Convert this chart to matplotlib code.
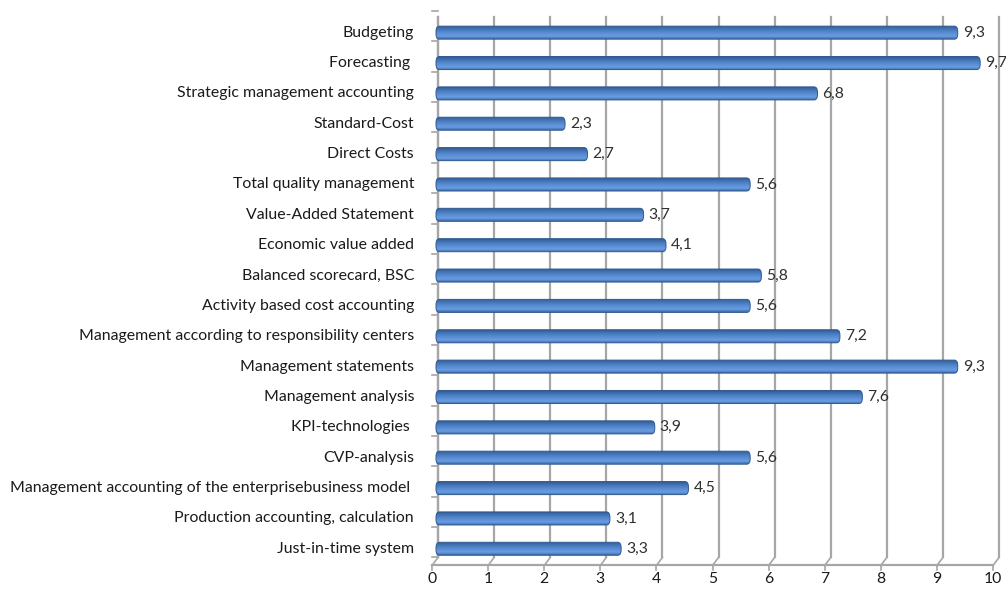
import matplotlib
matplotlib.use("Agg")
import matplotlib.pyplot as plt
import matplotlib.transforms as mtransforms
import numpy as np
from matplotlib.patches import FancyBboxPatch
from matplotlib.colors import LinearSegmentedColormap

categories = [
    "Budgeting",
    "Forecasting ",
    "Strategic management accounting",
    "Standard-Cost",
    "Direct Costs",
    "Total quality management",
    "Value-Added Statement",
    "Economic value added",
    "Balanced scorecard, BSC",
    "Activity based cost accounting",
    "Management according to responsibility centers",
    "Management statements",
    "Management analysis",
    "KPI-technologies ",
    "CVP-analysis",
    "Management accounting of the enterprisebusiness model ",
    "Production accounting, calculation",
    "Just-in-time system",
]
values = [9.3, 9.7, 6.8, 2.3, 2.7, 5.6, 3.7, 4.1, 5.8, 5.6, 7.2, 9.3, 7.6, 3.9, 5.6, 4.5, 3.1, 3.3]
xticks = list(range(0, 11))

plt.rcParams['font.family'] = ['Lato', 'DejaVu Sans']
fig = plt.figure(figsize=(10.06, 6.03), dpi=100)
ax = fig.add_axes([432 / 1006, 1 - 565.5 / 603, 561 / 1006, 548 / 603])

n = len(categories)
ypos = np.arange(n)[::-1]
ax.set_xlim(0, 10)
ax.set_ylim(-0.55, n - 0.5)

# 3D back-wall offset
dx, dy = 6 / 100, 8 / 100
back = ax.transData + mtransforms.ScaledTranslation(dx, dy, fig.dpi_scale_trans)
mid = ax.transData + mtransforms.ScaledTranslation(4 / 100, 0, fig.dpi_scale_trans)
gcol = '#a6a6a6'
inv = ax.transData.inverted()
for v in xticks:
    ax.plot([v, v], [-0.55, n - 0.75], color=gcol, lw=1.6, transform=back, zorder=1, clip_on=False)
    x0, y0 = ax.transData.transform((v, -0.55))
    x1, y1 = back.transform((v, -0.55))
    p0 = inv.transform((x0, y0)); p1 = inv.transform((x1, y1))
    ax.plot([p0[0], p1[0]], [p0[1], p1[1]], color=gcol, lw=1.2, zorder=1, clip_on=False)
ax.plot([0, 0], [-0.55, n - 0.75], color=gcol, lw=1.6, transform=back, zorder=1, clip_on=False)
for k in range(n + 1):
    yb = k - 0.55
    ax.plot([-0.1, 0], [yb, yb], color=gcol, lw=1.2, transform=back, zorder=1, clip_on=False)

ax.plot([0, 10], [-0.55, -0.55], color=gcol, lw=1.6, zorder=1, clip_on=False)
for v in xticks:
    ax.plot([v, v], [-0.55, -0.7], color=gcol, lw=1.2, zorder=1, clip_on=False)

# bars with gradient
grad = np.linspace(0, 1, 64).reshape(-1, 1)
cmap = LinearSegmentedColormap.from_list(
    'b', ['#3b6aa8', '#6a9ce0', '#5c90d6', '#4d80c4', '#3e6cab', '#2b5389'])
h = 0.43
for y, v in zip(ypos, values):
    patch = FancyBboxPatch((0.0, y - h / 2), v, h,
                           boxstyle="round,pad=0,rounding_size=0.06",
                           mutation_aspect=3.0, transform=mid,
                           facecolor='none', edgecolor='#2f5a90', lw=0.7, zorder=4)
    ax.add_patch(patch)
    im = ax.imshow(grad, extent=(0, v, y + h / 2, y - h / 2), aspect='auto', cmap=cmap,
                   zorder=3, transform=mid)
    im.set_clip_path(patch)
    ax.text(v + 0.09, y, f"{v:.1f}".replace('.', ','), va='center', ha='left',
            fontsize=11.3, color='#303030', zorder=5, transform=mid)
ax.set_xlim(0, 10)
ax.set_ylim(-0.55, n - 0.5)

for side in ax.spines.values():
    side.set_visible(False)
ax.set_xticks([])
ax.set_yticks([])
for v in xticks:
    ax.text(v, -0.76, str(v), ha='center', va='top', fontsize=11.3, color='#1a1a1a')
for y, c in zip(ypos, categories):
    ax.text(-0.32, y, c, ha='right', va='center', fontsize=11.4, color='#1a1a1a')

fig.savefig('out.png', dpi=100)
